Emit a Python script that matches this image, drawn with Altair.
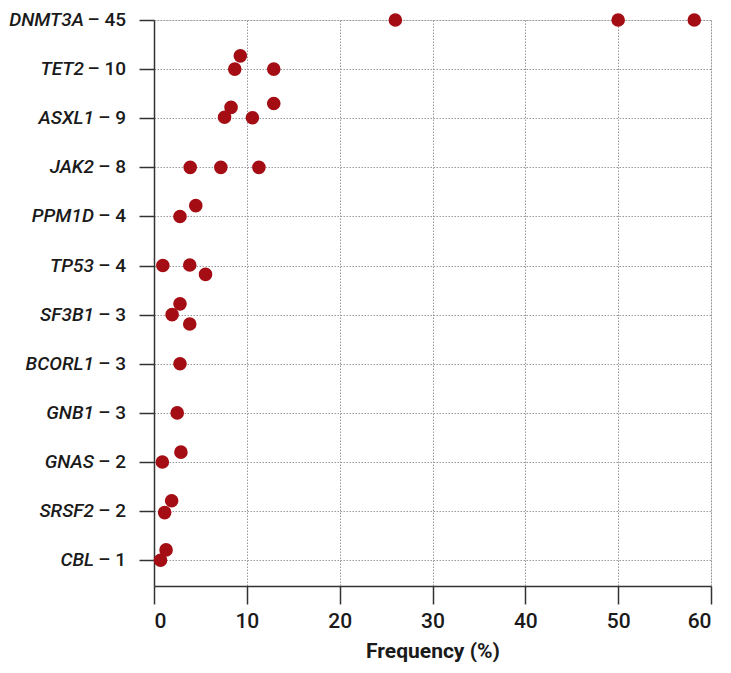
import altair as alt
import pandas as pd

# Genes (top to bottom) and their counts shown in the labels
genes = ["DNMT3A", "TET2", "ASXL1", "JAK2", "PPM1D", "TP53",
         "SF3B1", "BCORL1", "GNB1", "GNAS", "SRSF2", "CBL"]
counts = [45, 10, 9, 8, 4, 4, 3, 3, 3, 2, 2, 1]

# Individual study frequencies (%) with small vertical jitter (in row units)
point_gene = ["DNMT3A", "DNMT3A", "DNMT3A",
              "TET2", "TET2", "TET2",
              "ASXL1", "ASXL1", "ASXL1", "ASXL1",
              "JAK2", "JAK2", "JAK2",
              "PPM1D", "PPM1D",
              "TP53", "TP53", "TP53",
              "SF3B1", "SF3B1", "SF3B1",
              "BCORL1",
              "GNB1",
              "GNAS", "GNAS",
              "SRSF2", "SRSF2",
              "CBL", "CBL"]
point_freq = [26.0, 50.0, 58.2,
              9.3, 8.7, 12.9,
              8.3, 7.6, 10.6, 12.9,
              3.9, 7.2, 11.3,
              2.8, 4.5,
              0.95, 3.85, 5.55,
              2.8, 1.95, 3.85,
              2.8,
              2.5,
              0.9, 2.9,
              1.15, 1.9,
              0.7, 1.3]
point_jitter = [0, 0, 0,
                0.27, 0, 0,
                0.22, 0.02, 0.01, 0.3,
                0, 0, 0,
                0, 0.22,
                0, 0.01, -0.18,
                0.22, 0, -0.19,
                0,
                0,
                0, 0.2,
                -0.03, 0.21,
                0, 0.21]

n = len(genes)
rows = pd.DataFrame({
    "gene": genes,
    "count": counts,
    "row": [n - 1 - i for i in range(n)],
})
rows["suffix"] = ["\u2013 " + str(c) for c in counts]

row_of = dict(zip(genes, rows["row"]))
pts = pd.DataFrame({"gene": point_gene, "freq": point_freq, "jit": point_jitter})
pts["ypos"] = [row_of[g] + j for g, j in zip(pts["gene"], pts["jit"])]

FONT = "Roboto"
TXT = "#1a1a1a"
yscale = alt.Scale(domain=[-0.525, n - 1], nice=False, zero=False)
xscale = alt.Scale(domain=[0, 60], nice=False)

points = alt.Chart(pts).mark_circle(size=185, opacity=1, color="#a30d13").encode(
    x=alt.X("freq:Q", scale=xscale,
            axis=alt.Axis(values=[0, 10, 20, 30, 40, 50, 60], tickSize=18,
                          labelFont=FONT, labelFontSize=21, labelColor=TXT,
                          labelFontWeight=500,
                          labelPadding=6, title="Frequency (%)", titleFont=FONT,
                          titleFontSize=21, titleFontWeight="bold", titleColor=TXT,
                          titlePadding=9, grid=True, gridDash=[1.5, 1.5],
                          gridColor="#999", gridWidth=1, domainColor="#333",
                          domainWidth=1.5, tickColor="#333", tickWidth=1.5)),
    y=alt.Y("ypos:Q", scale=yscale,
            axis=alt.Axis(values=list(range(n)), labels=False, tickSize=15,
                          title=None, grid=True, gridDash=[1.5, 1.5], gridColor="#999",
                          gridWidth=1, domainColor="#333", domainWidth=1.5,
                          tickColor="#333", tickWidth=1.5)),
)

suffix_text = alt.Chart(rows).mark_text(
    align="right", baseline="middle", font=FONT, fontSize=19, fontWeight=500,
    color=TXT
).encode(
    x=alt.value(-28),
    y=alt.Y("row:Q", scale=yscale),
    text="suffix:N",
)

gene_text = alt.Chart(rows).transform_calculate(
    gx="datum.count >= 10 ? -70 : -60"
).mark_text(
    align="right", baseline="middle", font=FONT, fontSize=19, fontWeight=500,
    fontStyle="italic", color=TXT
).encode(
    x=alt.X("gx:Q", scale=None),
    y=alt.Y("row:Q", scale=yscale),
    text="gene:N",
)

chart = alt.layer(points, suffix_text, gene_text).properties(
    width=557, height=566,
    autosize=alt.AutoSizeParams(type="none"),
    padding={"left": 146, "top": 12, "right": 12, "bottom": 76},
).configure_view(stroke=None).configure(background="white")

chart.save("out.html", embed_options={"renderer": "svg", "actions": False})
